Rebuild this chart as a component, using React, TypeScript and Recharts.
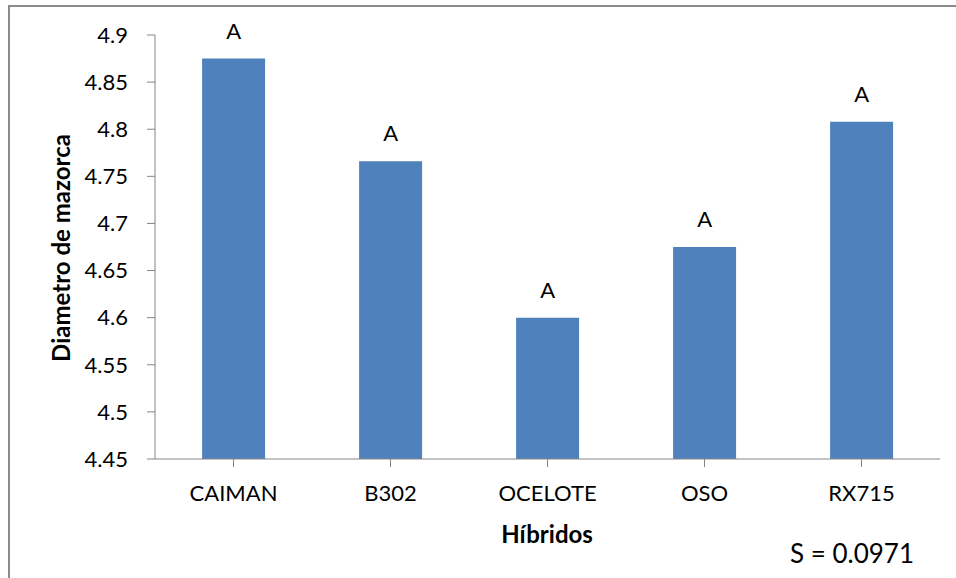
import React from 'react';
import { BarChart, Bar, XAxis, YAxis, LabelList } from 'recharts';

const hibridos = ['CAIMAN', 'B302', 'OCELOTE', 'OSO', 'RX715'];
const diametro = [4.875, 4.766, 4.6, 4.675, 4.808];
const grupos = ['A', 'A', 'A', 'A', 'A'];
const yTicks = [4.45, 4.5, 4.55, 4.6, 4.65, 4.7, 4.75, 4.8, 4.85, 4.9];

const data = hibridos.map((name, i) => ({ name, value: diametro[i], grupo: grupos[i] }));

const FONT = 'Lato, "Open Sans", sans-serif';
const AXIS = '#868686';

export default function App() {
  return (
    <div
      style={{
        position: 'absolute',
        left: 0,
        top: 0,
        width: 956,
        height: 578,
        background: '#fff',
        overflow: 'hidden',
        fontFamily: FONT,
      }}
    >
      {/* outer frame: only top and left edges fall inside the picture */}
      <div
        style={{
          position: 'absolute',
          left: 8,
          top: 5,
          width: 1000,
          height: 700,
          border: '2px solid #8c8c8c',
          boxSizing: 'border-box',
        }}
      />
      <div style={{ position: 'absolute', left: 0, top: 0 }}>
        <BarChart
          width={956}
          height={578}
          data={data}
          margin={{ top: 35, right: 16, left: 0, bottom: 79 }}
          barCategoryGap="30%"
        >
          <XAxis
            dataKey="name"
            height={40}
            stroke={AXIS}
            tickSize={8}
            tickMargin={18}
            tick={{ fill: '#000', fontSize: 22, fontFamily: FONT }}
          />
          <YAxis
            width={155}
            domain={[4.45, 4.9]}
            ticks={yTicks}
            allowDataOverflow
            stroke={AXIS}
            tickSize={8}
            tickMargin={19}
            tick={{ fill: '#000', fontSize: 22, fontFamily: FONT }}
          />
          <Bar dataKey="value" fill="#4F81BD" isAnimationActive={false}>
            <LabelList
              dataKey="grupo"
              position="top"
              offset={20}
              style={{ fill: '#000', fontSize: 22, fontFamily: FONT }}
            />
          </Bar>
        </BarChart>
      </div>
      <div
        style={{
          position: 'absolute',
          left: 60,
          top: 248,
          transform: 'translate(-50%, -50%) rotate(-90deg)',
          whiteSpace: 'nowrap',
          fontWeight: 700,
          fontSize: 24,
          color: '#000',
        }}
      >
        Diametro de mazorca
      </div>
      <div
        style={{
          position: 'absolute',
          left: 547,
          top: 533,
          transform: 'translate(-50%, -50%)',
          whiteSpace: 'nowrap',
          fontWeight: 700,
          fontSize: 24,
          color: '#000',
        }}
      >
        Híbridos
      </div>
      <div
        style={{
          position: 'absolute',
          left: 790,
          top: 553,
          transform: 'translate(0, -50%)',
          whiteSpace: 'nowrap',
          fontSize: 26,
          color: '#000',
        }}
      >
        S = 0.0971
      </div>
    </div>
  );
}
